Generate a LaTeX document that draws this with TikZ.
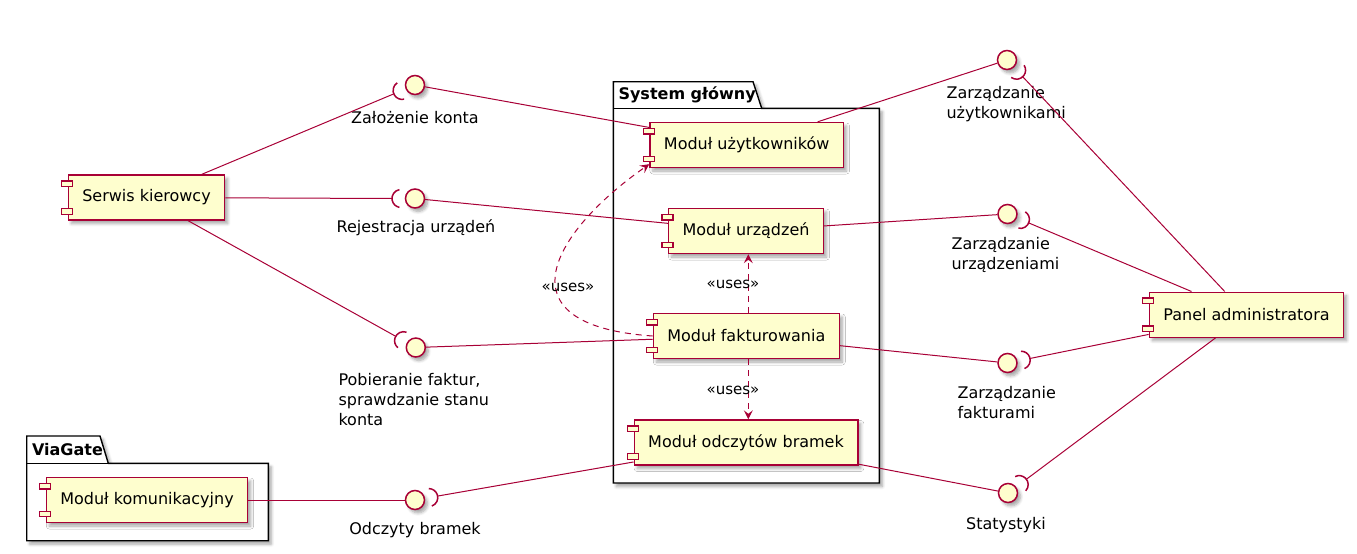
\documentclass[tikz,border=0pt]{standalone}
\usepackage{fontspec}
\setmainfont{DejaVu Sans}
\usetikzlibrary{positioning, arrows.meta, shadows, shadows.blur, calc}

\definecolor{umlred}{HTML}{A80036}
\definecolor{umlyellow}{HTML}{FEFECE}

\tikzset{
  umlshadow/.style={blur shadow={shadow xshift=3pt, shadow yshift=-3.5pt, shadow blur radius=3pt, shadow blur steps=6, shadow opacity=35}},
  comp/.style={draw=umlred, fill=umlyellow, line width=1.4pt, minimum height=45pt, inner xsep=14pt, font=\fontsize{16}{19}\selectfont, umlshadow},
  compicon/.style={draw=umlred, fill=umlyellow, line width=1.4pt},
  iface/.style={circle, draw=umlred, fill=umlyellow, line width=1.5pt, minimum size=19pt, inner sep=0pt, umlshadow},
  sock/.style={draw=umlred, line width=1.5pt},
  link/.style={draw=umlred, line width=1pt},
  uses/.style={link, dash pattern=on 6pt off 5pt, -{Stealth[length=9pt, width=9pt, inset=3.5pt]}},
  lbl/.style={font=\fontsize{16}{20}\selectfont, align=left},
  usestxt/.style={font=\fontsize{15}{18}\selectfont},
  pkg/.style={draw=black, line width=1.4pt, fill=white, umlshadow},
  pkgtitle/.style={font=\bfseries\fontsize{16}{19}\selectfont, anchor=west},
}

% ball name, target, angle
\newcommand{\socket}[3]{%
  \draw[sock] (#1.center) ++(#3:14pt) ++({#3-80}:9pt) arc[start angle={#3-80}, end angle={#3+80}, radius=9pt];
  \coordinate (#1-s) at ([shift={(#3:23pt)}]#1.center);
  \draw[link] (#1-s) -- (#2);
}

\begin{document}
\begin{tikzpicture}[x=1pt, y=1pt]
\useasboundingbox (0,0) rectangle (1357,-554);

% packages
\draw[pkg] (613.3,-81.7) -- (753,-81.7) -- (761.7,-108.3) -- (879.3,-108.3) -- (879.3,-483) -- (613.3,-483) -- cycle;
\draw[line width=1.4pt] (613.3,-108.3) -- (761.7,-108.3);
\node[pkgtitle] (sysg) at (615,-95) {System główny};
\draw[pkg] (26.7,-436) -- (100,-436) -- (108.3,-463.3) -- (268.3,-463.3) -- (268.3,-540.7) -- (26.7,-540.7) -- cycle;
\draw[line width=1.4pt] (26.7,-463.3) -- (108.3,-463.3);
\node[pkgtitle] (viag) at (28.5,-449.5) {ViaGate};

% components
\node[comp] (serwis) at (146.5,-197.5) {Serwis kierowcy};
\node[comp] (uzyt) at (746.7,-145) {Moduł użytkowników};
\node[comp] (urz) at (746,-231) {Moduł urządzeń};
\node[comp] (fakt) at (746.3,-336) {Moduł fakturowania};
\node[comp] (odcz) at (746,-442.5) {Moduł odczytów bramek};
\node[comp] (komun) at (147,-500) {Moduł komunikacyjny};
\node[comp] (panel) at (1246.5,-314.7) {Panel administratora};
\foreach \n in {serwis,uzyt,urz,fakt,odcz,komun,panel} {
  \draw[compicon] ([xshift=-6pt,yshift=-6.5pt]\n.north west) rectangle ++(11pt,-5.5pt);
  \draw[compicon] ([xshift=-6pt,yshift=6.5pt]\n.south west) rectangle ++(11pt,5.5pt);
}

% interfaces
\node[iface] (zk) at (415,-85) {};
\node[iface] (rej) at (415,-198.5) {};
\node[iface] (pob) at (415.8,-347.5) {};
\node[iface] (odb) at (415,-500) {};
\node[iface] (zu) at (1007,-60) {};
\node[iface] (zurz) at (1007.5,-214) {};
\node[iface] (zf) at (1007.5,-363) {};
\node[iface] (stat) at (1008,-493) {};

\node[lbl] (zk-l) at (415,-118) {Założenie konta};
\node[lbl] (rej-l) at (416,-228) {Rejestracja urządeń};
\node[lbl, anchor=west] (pob-l) at (335,-400) {Pobieranie faktur,\\sprawdzanie stanu\\konta};
\node[lbl] (odb-l) at (415,-530) {Odczyty bramek};
\node[lbl, anchor=west] (zu-l) at (943,-104.5) {Zarządzanie\\użytkownikami};
\node[lbl, anchor=west] (zurz-l) at (948,-255) {Zarządzanie\\urządzeniami};
\node[lbl, anchor=west] (zf-l) at (954,-403) {Zarządzanie\\fakturami};
\node[lbl] (stat-l) at (1006,-525) {Statystyki};

% provided
\draw[link] (uzyt) -- (zk);
\draw[link] (urz) -- (rej);
\draw[link] (fakt) -- (pob);
\draw[link] (komun) -- (odb);
\draw[link] (uzyt) -- (zu);
\draw[link] (urz) -- (zurz);
\draw[link] (fakt) -- (zf);
\draw[link] (odcz) -- (stat);

% required
\socket{zk}{serwis}{202.7}
\socket{rej}{serwis}{180}
\socket{pob}{serwis}{150.9}
\socket{odb}{odcz}{9.9}
\socket{zu}{panel}{-46.8}
\socket{zurz}{panel}{-22.8}
\socket{zf}{panel}{11.4}
\socket{stat}{panel}{36.8}

% uses
\draw[uses] (fakt.west) .. controls (495,-325) and (555,-230) .. ([yshift=4pt]uzyt.south west);
\node[usestxt] (u1) at (568,-287) {«uses»};
\draw[uses] ([xshift=2pt]fakt.north) -- ([xshift=2pt]fakt.north |- urz.south);
\node[usestxt] (u2) at (733,-284) {«uses»};
\draw[uses] ([xshift=2pt]fakt.south) -- ([xshift=2pt]fakt.south |- odcz.north);
\node[usestxt] (u3) at (733,-390) {«uses»};
\end{tikzpicture}
\end{document}
